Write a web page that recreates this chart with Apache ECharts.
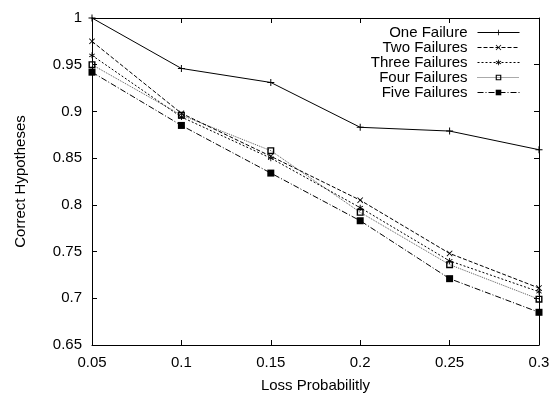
<!DOCTYPE html>
<html><head><meta charset="utf-8">
<script src="https://cdn.jsdelivr.net/npm/echarts@6/dist/echarts.min.js"></script>
<style>html,body{margin:0;padding:0;background:#fff}#c{width:553px;height:393px}</style>
</head><body><div id="c"></div>
<script>
var xValues = [0.05, 0.1, 0.15, 0.2, 0.25, 0.3];
var seriesNames = ['One Failure', 'Two Failures', 'Three Failures', 'Four Failures', 'Five Failures'];
var oneFailure = [1.0, 0.946, 0.931, 0.883, 0.879, 0.859];
var twoFailures = [0.975, 0.898, 0.852, 0.805, 0.748, 0.711];
var threeFailures = [0.960, 0.894, 0.850, 0.797, 0.740, 0.707];
var fourFailures = [0.950, 0.896, 0.858, 0.792, 0.736, 0.699];
var fiveFailures = [0.942, 0.885, 0.834, 0.783, 0.721, 0.685];
var xTitle = 'Loss Probabilitly';
var yTitle = 'Correct Hypotheses';

var FONT = 'Liberation Sans, Arial, Helvetica, sans-serif';
var plusPath = 'path://M4.3,0L5.7,0L5.7,4.3L10,4.3L10,5.7L5.7,5.7L5.7,10L4.3,10L4.3,5.7L0,5.7L0,4.3L4.3,4.3Z';
var crossPath = 'path://M1,0L5,4L9,0L10,1L6,5L10,9L9,10L5,6L1,10L0,9L4,5L0,1Z';
var starPath = 'path://M4.3,0L5.7,0L5.7,3.8L9,1.9L9.7,3.1L6.4,5L9.7,6.9L9,8.1L5.7,6.2L5.7,10L4.3,10L4.3,6.2L1,8.1L0.3,6.9L3.6,5L0.3,3.1L1,1.9L4.3,3.8Z';
var hollowSq = 'path://M0,0L10,0L10,10L0,10ZM2,2L2,8L8,8L8,2Z';

var allData = [oneFailure, twoFailures, threeFailures, fourFailures, fiveFailures];
var symbols = [plusPath, crossPath, starPath, hollowSq, 'rect'];
var symSizes = [7, 6, 6, 7, 7];
var lineTypes = ['solid', [4, 2], [2, 2], [1, 1], [6, 2, 1, 2]];
var lineColors = ['#000', '#000', '#000', '#555', '#000'];

var series = seriesNames.map(function (n, i) {
  return {
    name: n, type: 'line',
    data: xValues.map(function (x, j) { return [x, allData[i][j]]; }),
    symbol: symbols[i], symbolSize: symSizes[i], showSymbol: true,
    itemStyle: { color: '#000' },
    lineStyle: { color: lineColors[i], width: 1, type: lineTypes[i] },
    emphasis: { disabled: true }, animation: false, z: 10 - i
  };
});

var chart = echarts.init(document.getElementById('c'), null, { renderer: 'canvas' });
chart.setOption({
  animation: false,
  grid: { left: 92, right: 14, top: 18, bottom: 48, containLabel: false, outerBoundsMode: 'none' },
  legend: {
    orient: 'vertical', right: 33, top: 25, align: 'right', padding: 0,
    itemWidth: 42, itemHeight: 7, itemGap: 0,
    data: seriesNames,
    lineStyle: { width: 1 },
    textStyle: { fontFamily: FONT, fontSize: 15, lineHeight: 15, color: '#000', width: 140, align: 'right', padding: [0, 5, 0, 0] }
  },
  xAxis: [{
    type: 'value', min: 0.05, max: 0.3, interval: 0.05,
    name: xTitle, nameLocation: 'middle', nameGap: 33,
    nameTextStyle: { fontFamily: FONT, fontSize: 15, color: '#000' },
    axisLine: { lineStyle: { color: '#000', width: 1 } },
    axisTick: { inside: true, length: 5, lineStyle: { color: '#000' } },
    axisLabel: { fontFamily: FONT, fontSize: 15, color: '#000', margin: 10 },
    splitLine: { show: false }
  }, {
    type: 'value', position: 'top', min: 0.05, max: 0.3, interval: 0.05,
    axisLine: { lineStyle: { color: '#000', width: 1 } },
    axisTick: { inside: true, length: 5, lineStyle: { color: '#000' } },
    axisLabel: { show: false }, splitLine: { show: false }
  }],
  yAxis: [{
    type: 'value', min: 0.65, max: 1, interval: 0.05,
    name: yTitle, nameLocation: 'middle', nameGap: 64, nameRotate: 90,
    nameTextStyle: { fontFamily: FONT, fontSize: 15, color: '#000' },
    axisLine: { show: true, lineStyle: { color: '#000', width: 1 } },
    axisTick: { show: true, inside: true, length: 5, lineStyle: { color: '#000' } },
    axisLabel: { fontFamily: FONT, fontSize: 15, color: '#000', margin: 10 },
    splitLine: { show: false }
  }, {
    type: 'value', position: 'right', min: 0.65, max: 1, interval: 0.05,
    axisLine: { show: true, lineStyle: { color: '#000', width: 1 } },
    axisTick: { show: true, inside: true, length: 5, lineStyle: { color: '#000' } },
    axisLabel: { show: false }, splitLine: { show: false }
  }],
  series: series
});
</script></body></html>
